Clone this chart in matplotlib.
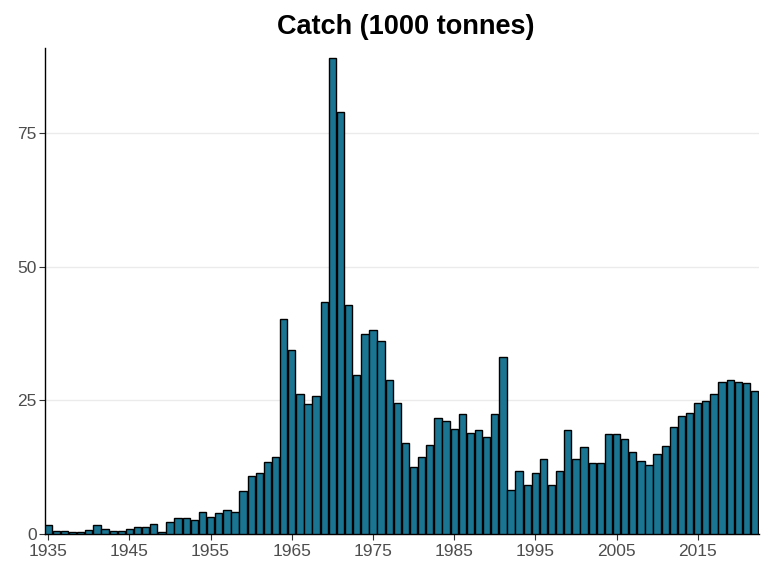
import matplotlib
matplotlib.use("Agg")
import matplotlib.pyplot as plt
import numpy as np

years = list(range(1935, 2023))
catch = [
    1.6, 0.6, 0.6, 0.3, 0.3, 0.7, 1.6, 0.9, 0.6, 0.6,          # 1935-1944
    0.9, 1.3, 1.3, 1.9, 0.3, 2.2, 3.0, 3.0, 2.6, 4.2,          # 1945-1954
    3.2, 3.9, 4.5, 4.2, 8.1, 10.9, 11.5, 13.5, 14.4, 40.3,     # 1955-1964
    34.5, 26.2, 24.4, 25.9, 43.5, 89.2, 79.0, 42.8, 29.8, 37.4, # 1965-1974
    38.1, 36.2, 28.9, 24.6, 17.0, 12.6, 14.4, 16.6, 21.8, 21.1, # 1975-1984
    19.6, 22.4, 18.9, 19.5, 18.2, 22.4, 33.2, 8.3, 11.8, 9.2,  # 1985-1994
    11.5, 14.1, 9.2, 11.8, 19.4, 14.1, 16.3, 13.3, 13.3, 18.8, # 1995-2004
    18.8, 17.8, 15.3, 13.7, 13.0, 15.0, 16.5, 20.1, 22.0, 22.7, # 2005-2014
    24.6, 24.9, 26.3, 28.5, 28.8, 28.5, 28.2, 26.8,             # 2015-2022
]
x_ticks = [1935, 1945, 1955, 1965, 1975, 1985, 1995, 2005, 2015]
y_ticks = [0, 25, 50, 75]
title = "Catch (1000 tonnes)"

W, H = 761, 562
fig = plt.figure(figsize=(W / 100, H / 100), dpi=100)
ax = fig.add_axes([45 / W, (H - 534) / H, (759 - 45) / W, (534 - 48) / H])

ax.bar(years, catch, width=0.9, color="#1a7593", edgecolor="black", linewidth=1.0, zorder=3)

ax.set_xlim(1934.6, 2022.55)
ax.set_ylim(0, max(catch) * 1.02)
ax.set_xticks(x_ticks)
ax.set_yticks(y_ticks)
ax.set_xticklabels([str(t) for t in x_ticks], fontsize=12.5, color="#4D4D4D", family="Liberation Sans")
ax.set_yticklabels([str(t) for t in y_ticks], fontsize=12.5, color="#4D4D4D", family="Liberation Sans")
ax.tick_params(axis="x", length=4, width=0.8, color="#333333", pad=3)
ax.tick_params(axis="y", length=4, width=0.8, color="#333333", pad=2)

ax.grid(axis="y", color="#EBEBEB", linewidth=1.0, zorder=0)
ax.set_axisbelow(True)
for s in ["top", "right"]:
    ax.spines[s].set_visible(False)
for s in ["left", "bottom"]:
    ax.spines[s].set_color("black")
    ax.spines[s].set_linewidth(1.0)

fig.text(406 / W, 1 - 27 / H, title, ha="center", va="center",
         fontsize=19.5, fontweight="bold", family="Liberation Sans")

fig.savefig("out.png", dpi=100)
